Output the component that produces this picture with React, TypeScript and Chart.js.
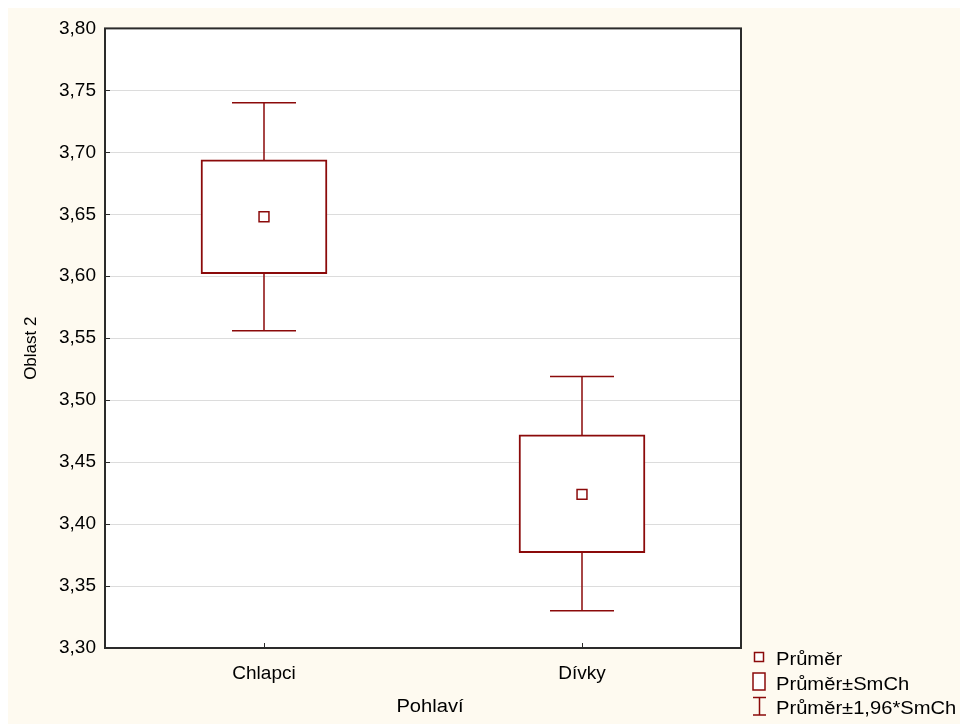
import React, { useEffect, useRef } from 'react';
import { Chart, registerables } from 'chart.js';

Chart.register(...registerables);

// ---- data ----
const categories = ['Chlapci', 'Dívky'];
const means = [3.648, 3.424];
const seLow = [3.602, 3.377];
const seHigh = [3.694, 3.472];
const ciLow = [3.556, 3.330];
const ciHigh = [3.740, 3.519];
const yTicks = [3.30, 3.35, 3.40, 3.45, 3.50, 3.55, 3.60, 3.65, 3.70, 3.75, 3.80];
const legendLabels = ['Průměr', 'Průměr±SmCh', 'Průměr±1,96*SmCh'];
const xTitle = 'Pohlaví';
const yTitle = 'Oblast 2';

// ---- styles ----
const RED = '#8B0A0A';
const FRAME = '#2b2b2b';
const FONT = 'Arial, "Liberation Sans", sans-serif';
const FONT_SIZE = 19;
const CAP_HALF = 32;

function stretchedText(ctx: any, text: string, x: number, y: number, sx: number, align: string) {
  ctx.save();
  ctx.translate(x, y);
  ctx.scale(sx, 1);
  ctx.textAlign = align;
  ctx.fillText(text, 0, 0);
  ctx.restore();
}

const extrasPlugin = {
  id: 'boxExtras',
  beforeDraw(chart: any) {
    const { ctx, chartArea: a } = chart;
    ctx.save();
    ctx.fillStyle = '#ffffff';
    ctx.fillRect(a.left, a.top, a.right - a.left, a.bottom - a.top);
    ctx.restore();
  },
  beforeDatasetsDraw(chart: any) {
    const { ctx } = chart;
    const xs = chart.scales.x;
    const ys = chart.scales.y;
    ctx.save();
    ctx.strokeStyle = RED;
    ctx.lineWidth = 1.5;
    categories.forEach((_, i) => {
      const px = xs.getPixelForValue(i);
      const yHi = ys.getPixelForValue(ciHigh[i]);
      const yLo = ys.getPixelForValue(ciLow[i]);
      ctx.beginPath();
      ctx.moveTo(px, yHi);
      ctx.lineTo(px, yLo);
      ctx.moveTo(px - CAP_HALF, yHi);
      ctx.lineTo(px + CAP_HALF, yHi);
      ctx.moveTo(px - CAP_HALF, yLo);
      ctx.lineTo(px + CAP_HALF, yLo);
      ctx.stroke();
    });
    ctx.restore();
  },
  afterDraw(chart: any) {
    const { ctx, chartArea: a } = chart;
    const xs = chart.scales.x;
    const ys = chart.scales.y;
    ctx.save();
    // frame
    ctx.strokeStyle = FRAME;
    ctx.lineWidth = 2;
    ctx.strokeRect(a.left, a.top, a.right - a.left, a.bottom - a.top);
    // inward tick marks
    ctx.lineWidth = 1;
    ctx.beginPath();
    ys.ticks.forEach((t: any) => {
      const py = Math.round(ys.getPixelForValue(t.value)) + 0.5;
      ctx.moveTo(a.left, py);
      ctx.lineTo(a.left + 5, py);
    });
    categories.forEach((_, i) => {
      const px = Math.round(xs.getPixelForValue(i)) + 0.5;
      ctx.moveTo(px, a.bottom);
      ctx.lineTo(px, a.bottom - 5);
    });
    ctx.stroke();

    // axis titles
    ctx.fillStyle = '#000000';
    ctx.textBaseline = 'middle';
    ctx.font = `18px ${FONT}`;
    stretchedText(ctx, xTitle, (a.left + a.right) / 2 + 7, a.bottom + 59, 1.12, 'center');
    ctx.save();
    ctx.translate(23, (a.top + a.bottom) / 2 + 10);
    ctx.rotate(-Math.PI / 2);
    ctx.font = `17px ${FONT}`;
    ctx.textAlign = 'center';
    ctx.fillText(yTitle, 0, 0);
    ctx.restore();

    // legend
    const lx = a.right + 12;
    const tx = a.right + 35;
    ctx.strokeStyle = RED;
    ctx.fillStyle = '#ffffff';
    ctx.lineWidth = 1.5;
    // mean marker
    ctx.fillRect(lx + 1.5, a.bottom + 4.5, 9, 9);
    ctx.strokeRect(lx + 1.5, a.bottom + 4.5, 9, 9);
    // box marker
    ctx.fillRect(lx, a.bottom + 25, 12, 17);
    ctx.strokeRect(lx, a.bottom + 25, 12, 17);
    // whisker marker
    ctx.beginPath();
    ctx.moveTo(lx, a.bottom + 49.5);
    ctx.lineTo(lx + 13, a.bottom + 49.5);
    ctx.moveTo(lx + 6.5, a.bottom + 49.5);
    ctx.lineTo(lx + 6.5, a.bottom + 67);
    ctx.moveTo(lx, a.bottom + 67);
    ctx.lineTo(lx + 13, a.bottom + 67);
    ctx.stroke();

    ctx.fillStyle = '#000000';
    ctx.font = `18px ${FONT}`;
    ctx.textBaseline = 'alphabetic';
    stretchedText(ctx, legendLabels[0], tx, a.bottom + 17, 1.12, 'left');
    stretchedText(ctx, legendLabels[1], tx, a.bottom + 42, 1.12, 'left');
    stretchedText(ctx, legendLabels[2], tx, a.bottom + 66, 1.12, 'left');
    ctx.restore();
  },
};

export default function App() {
  const ref = useRef<HTMLCanvasElement | null>(null);

  useEffect(() => {
    document.documentElement.style.overflow = 'hidden';
    const canvas = ref.current;
    if (!canvas) return;
    const chart = new Chart(canvas, {
      type: 'bar',
      data: {
        labels: categories,
        datasets: [
          {
            type: 'bar',
            label: legendLabels[1],
            data: categories.map((_, i) => [seLow[i], seHigh[i]]) as any,
            backgroundColor: '#ffffff',
            borderColor: RED,
            borderWidth: 2,
            borderSkipped: false,
            barThickness: 126,
            order: 2,
          } as any,
          {
            type: 'line',
            label: legendLabels[0],
            data: means,
            showLine: false,
            pointStyle: 'rect',
            pointRadius: 7,
            pointBackgroundColor: '#ffffff',
            pointBorderColor: RED,
            pointBorderWidth: 1.5,
            order: 1,
          } as any,
        ],
      },
      options: {
        animation: false,
        responsive: false,
        events: [],
        layout: { padding: { top: 19, right: 227, left: 0, bottom: 0 } },
        plugins: {
          legend: { display: false },
          tooltip: { enabled: false },
        },
        scales: {
          x: {
            type: 'category',
            offset: true,
            grid: { display: false, drawTicks: false },
            border: { display: false },
            ticks: { color: '#000', font: { family: FONT, size: FONT_SIZE }, padding: 14 },
            title: { display: false, text: xTitle },
            afterFit: (s: any) => {
              s.height = 76;
            },
          },
          y: {
            type: 'linear',
            min: 3.3,
            max: 3.8,
            grid: { color: '#dcdcdc', lineWidth: 1, drawTicks: false },
            border: { display: false },
            afterBuildTicks: (s: any) => {
              s.ticks = yTicks.map((v) => ({ value: v }));
            },
            ticks: {
              color: '#000',
              font: { family: FONT, size: FONT_SIZE },
              padding: 9,
              callback: (v: any) => Number(v).toFixed(2).replace('.', ','),
            },
            title: { display: false, text: yTitle },
            afterFit: (s: any) => {
              s.width = 97;
            },
          },
        },
      } as any,
      plugins: [extrasPlugin],
    });
    return () => chart.destroy();
  }, []);

  return (
    <div style={{ width: 960, height: 716, background: '#FEFAF0' }}>
      <canvas ref={ref} width={960} height={716} style={{ display: 'block' }} />
    </div>
  );
}
